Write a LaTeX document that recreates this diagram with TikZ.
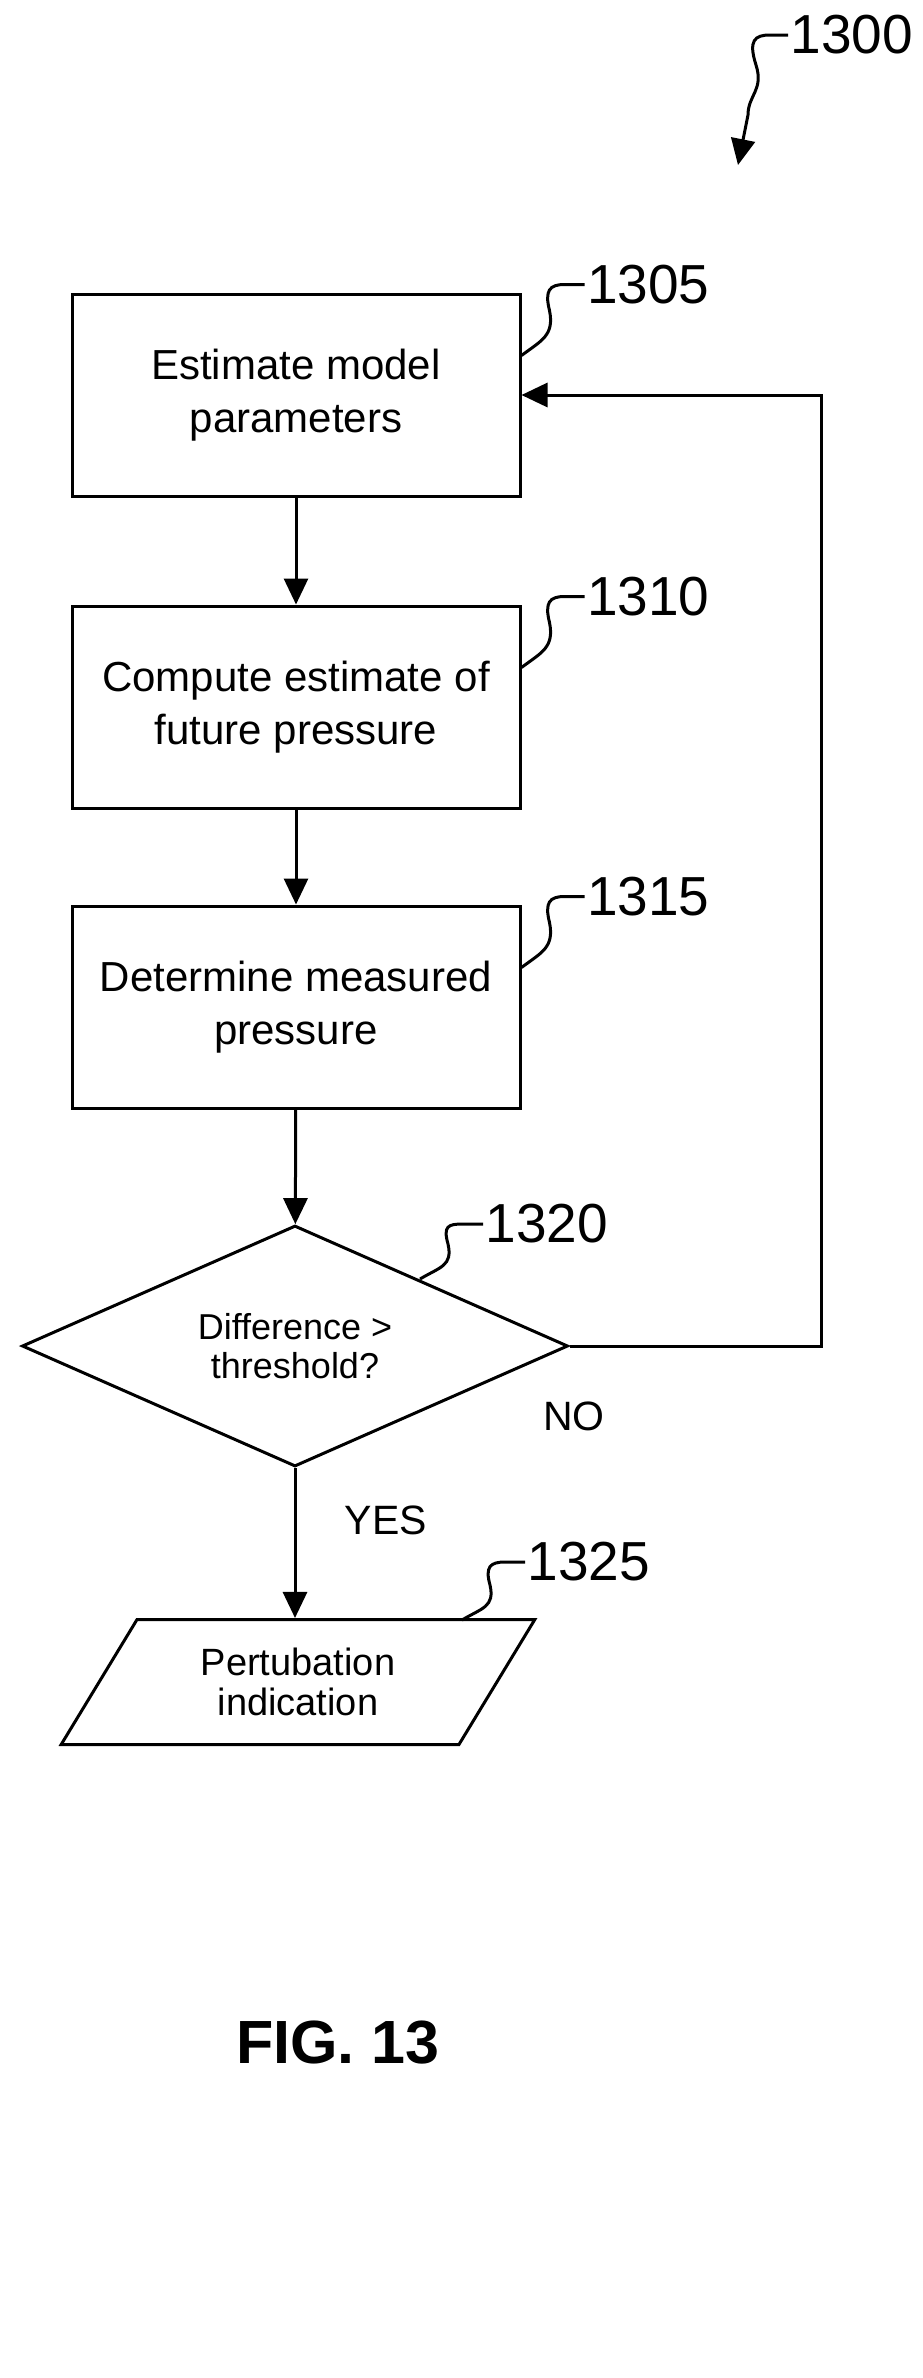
\documentclass[tikz,border=0pt]{standalone}
\usepackage{fontspec}
\setmainfont{Liberation Sans}
\usetikzlibrary{shapes.geometric,arrows.meta,calc}

\begin{document}
\begin{tikzpicture}[x=1pt,y=-1pt,line width=3pt,
  box/.style={draw,rectangle,minimum width=448pt,minimum height=202pt,inner sep=0pt,align=center,font=\fontsize{42}{53}\selectfont},
  decision/.style={draw,diamond,aspect=2.27,minimum width=546pt,minimum height=241pt,inner sep=0pt,align=center,font=\fontsize{36}{39}\selectfont},
  output/.style={draw,trapezium,trapezium left angle=56,trapezium right angle=124,trapezium stretches=true,minimum width=474pt,minimum height=125pt,inner sep=0pt,align=center,font=\fontsize{38}{40}\selectfont},
  flow/.style={-{Triangle[length=26pt,width=24pt]}},
  refnum/.style={font=\fontsize{55}{55}\selectfont,anchor=west,inner sep=1pt},
  tag/.style={font=\fontsize{41}{41}\selectfont}]
\useasboundingbox (0,0) rectangle (923,2378);

% process blocks
\node[box] (est) at (296,395) {Estimate model\\parameters};
\node[box] (comp) at (296,707) {Compute estimate of\\future pressure};
\node[box] (meas) at (296,1007) {Determine measured\\pressure};
\node[decision] (diff) at (295,1346) {Difference >\\threshold?};
\node[output] (pert) at (298,1682) {Pertubation\\indication};

% connectors
\draw[flow] (est) -- (comp);
\draw[flow] (comp) -- (meas);
\draw[flow] (meas) -- (diff);
\draw[flow] (diff.south) -- (pert.north -| diff.south);
\draw[flow] (diff.east) -- (821,1346) |- (est.east |- 0,395);

% branch labels
\node[tag] (no) at (574,1416) {NO};
\node[tag] (yes) at (386,1520) {YES};

% reference numerals
\draw ($(est.north east)+(0,63)$) .. controls +(20,-15) and +(5,25) .. ++(28,-45) .. controls +(-5,-20) and +(-15,0) .. ++(15,-26) -- ++(20,0) node[refnum] (n1305) {1305};
\draw ($(comp.north east)+(0,63)$) .. controls +(20,-15) and +(5,25) .. ++(28,-45) .. controls +(-5,-20) and +(-15,0) .. ++(15,-26) -- ++(20,0) node[refnum] (n1310) {1310};
\draw ($(meas.north east)+(0,63)$) .. controls +(20,-15) and +(5,25) .. ++(28,-45) .. controls +(-5,-20) and +(-15,0) .. ++(15,-26) -- ++(20,0) node[refnum] (n1315) {1315};
\draw (420,1279) .. controls +(20,-12) and +(5,22) .. ++(28,-35) .. controls +(-5,-18) and +(-15,0) .. ++(15,-20) -- ++(20,0) node[refnum] (n1320) {1320};
\draw (462,1620) .. controls +(20,-12) and +(5,22) .. ++(28,-35) .. controls +(-5,-18) and +(-15,0) .. ++(15,-23) -- ++(20,0) node[refnum] (n1325) {1325};
\node[refnum] (n1300) at (788,35) {1300};
\draw[flow] (n1300.west) -- ++(-18,0) .. controls +(-15,0) and +(-8,-25) .. ++(-14,30) .. controls +(8,25) and +(0,-20) .. ++(-8,50) -- (738,165);

% caption
\node[font=\bfseries\fontsize{61}{61}\selectfont] (fig) at (338,2043) {FIG. 13};
\end{tikzpicture}
\end{document}
